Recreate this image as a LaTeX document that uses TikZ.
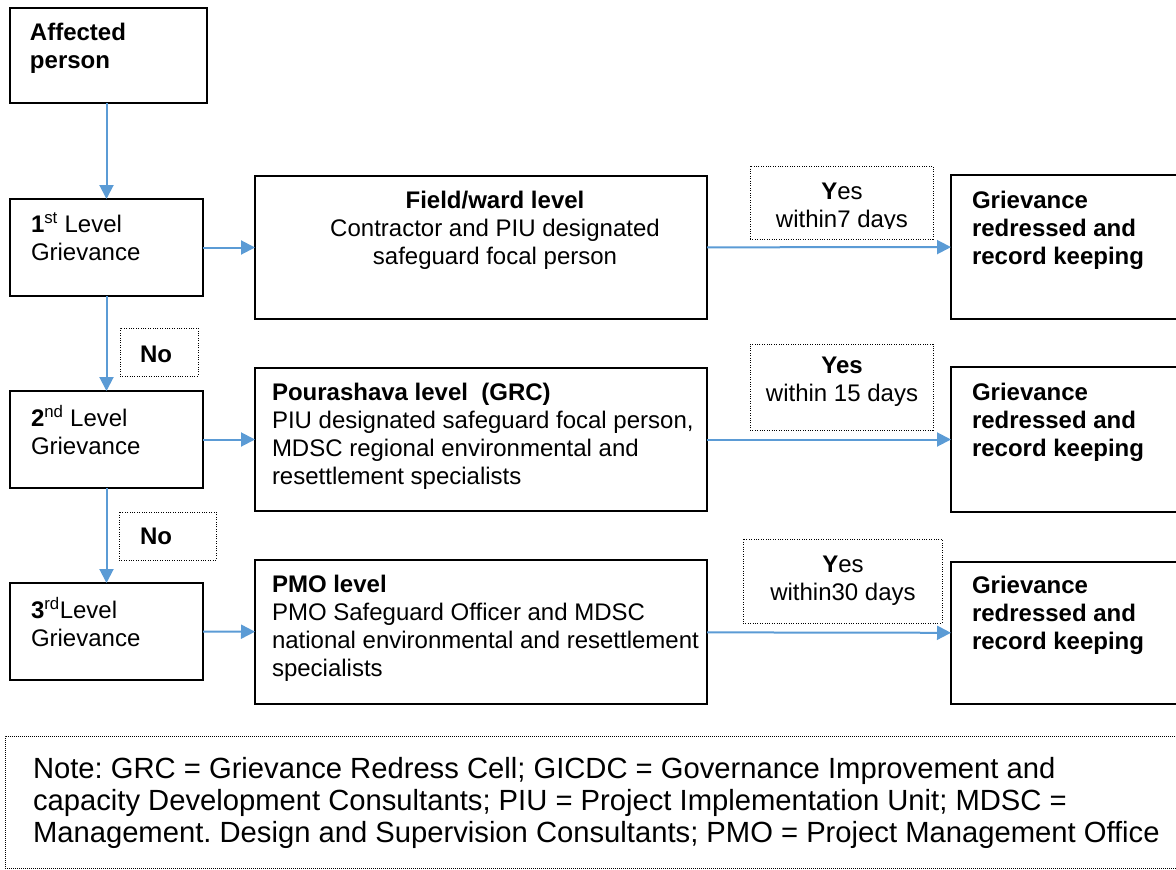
\documentclass[tikz,border=0pt]{standalone}
\usepackage{fontspec}
\setmainfont{Liberation Sans}
\usetikzlibrary{arrows.meta}
\definecolor{flowblue}{HTML}{5B9BD5}
\frenchspacing
\begin{document}
\begin{tikzpicture}[x=1pt,y=-1pt,
  box/.style={draw, line width=1.5pt, inner sep=0pt, outer sep=0pt, anchor=north west},
  dotbox/.style={draw, line width=1pt, dash pattern=on 1pt off 1.4pt, inner sep=0pt, outer sep=0pt, anchor=north west},
  notebox/.style={draw, line width=0.8pt, dash pattern=on 0.8pt off 1.2pt, inner sep=0pt, outer sep=0pt, anchor=north west},
  txt/.style={inner sep=0pt, outer sep=0pt, anchor=north west, align=left, font=\fontsize{24}{28}\selectfont},
  ctxt/.style={txt, anchor=north, align=center},
  notetxt/.style={inner sep=0pt, outer sep=0pt, anchor=north west, align=left, font=\fontsize{29.2}{32}\selectfont},
  flow/.style={draw=flowblue, line width=2pt, -{Triangle[length=14pt,width=14pt]}}
]
\useasboundingbox (0,0) rectangle (1176,870);

% boxes
\node[box, minimum width=197pt, minimum height=95pt] (ap) at (10,8) {};
\node[box, minimum width=193pt, minimum height=97pt] (l1) at (10,199) {};
\node[box, minimum width=193pt, minimum height=97pt] (l2) at (10,391) {};
\node[box, minimum width=193pt, minimum height=97pt] (l3) at (10,583) {};
\node[box, minimum width=452pt, minimum height=143pt] (f1) at (255,176) {};
\node[box, minimum width=452pt, minimum height=143pt] (p2) at (255,368) {};
\node[box, minimum width=452pt, minimum height=144pt] (p3) at (255,560) {};
\node[box, minimum width=240pt, minimum height=144pt] (g1) at (951,175) {};
\node[box, minimum width=240pt, minimum height=145pt] (g2) at (951,367) {};
\node[box, minimum width=240pt, minimum height=142pt] (g3) at (951,562) {};
\node[dotbox, minimum width=183pt, minimum height=73pt] (y1) at (750,166) {};
\node[dotbox, minimum width=183pt, minimum height=86pt] (y2) at (750,344) {};
\node[dotbox, minimum width=199pt, minimum height=84pt] (y3) at (743,539) {};
\node[dotbox, minimum width=78pt, minimum height=48pt] (n1) at (120,328) {};
\node[dotbox, minimum width=97pt, minimum height=48pt] (n2) at (119,512) {};
\node[notebox, minimum width=1185pt, minimum height=132pt] (nb) at (5,736) {};

% texts
\node[txt] (tap) at (30,20.4) {\strut\textbf{Affected}\\\textbf{person}};
\node[txt] (tl1) at (31,212.4) {\strut\textbf{1}\textsuperscript{st} Level\\Grievance};
\node[txt] (tl2) at (31,405.4) {\strut\textbf{2}\textsuperscript{nd} Level\\Grievance};
\node[txt] (tl3) at (31,597.4) {\strut\textbf{3}\textsuperscript{rd}Level\\Grievance};
\node[ctxt] (tf1) at (495,188.4) {\strut\textbf{Field/ward level}\\Contractor and PIU designated\\safeguard focal person};
\node[txt] (tp2) at (272,380.4) {\strut\textbf{Pourashava level\ \ (GRC)}\\PIU designated safeguard focal person,\\MDSC regional environmental and\\resettlement specialists};
\node[txt] (tp3) at (272,572.4) {\strut\textbf{PMO level}\\PMO Safeguard Officer and MDSC\\national environmental and resettlement\\specialists};
\node[txt] (tg1) at (972,188.4) {\strut\textbf{Grievance}\\\textbf{redressed and}\\\textbf{record keeping}};
\node[txt] (tg2) at (972,380.4) {\strut\textbf{Grievance}\\\textbf{redressed and}\\\textbf{record keeping}};
\node[txt] (tg3) at (972,573.4) {\strut\textbf{Grievance}\\\textbf{redressed and}\\\textbf{record keeping}};
\begin{scope}
  \clip (750,166) rectangle (933,228);
  \node[ctxt] (ty1) at (842,179.4) {\strut\textbf{Y}es\\within7 days};
\end{scope}
\node[ctxt] (ty2) at (842,353.4) {\strut\textbf{Yes}\\within 15 days};
\node[ctxt] (ty3) at (843,552.4) {\strut\textbf{Y}es\\within30 days};
\node[txt] (tn1) at (140,342.4) {\strut\textbf{No}};
\node[txt] (tn2) at (140,524.4) {\strut\textbf{No}};
\node[notetxt] (tnote) at (33,755.6) {\strut Note: GRC = Grievance Redress Cell; GICDC = Governance Improvement and\\capacity Development Consultants; PIU = Project Implementation Unit; MDSC =\\Management. Design and Supervision Consultants; PMO = Project Management Office};

% connectors
\draw[flow] (ap.south -| l1.north) -- (l1.north);
\draw[flow] (l1) -- (f1);
\draw[flow] (f1) -- (g1);
\draw[flow] (l1.south) -- (l2.north);
\draw[flow] (l2) -- (p2);
\draw[flow] (p2) -- (g2);
\draw[flow] (l2.south) -- (l3.north);
\draw[flow] (l3) -- (p3);
\draw[flow] (p3) -- (g3);
\end{tikzpicture}
\end{document}
